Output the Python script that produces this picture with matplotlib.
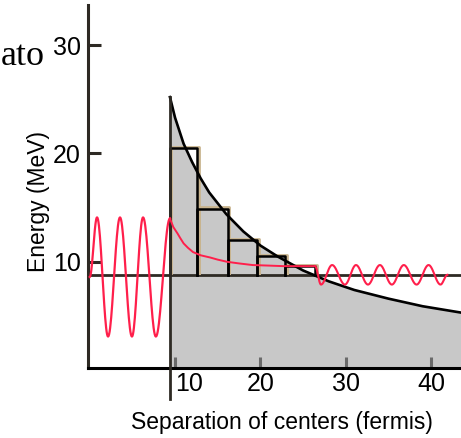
import numpy as np
import matplotlib
matplotlib.use("Agg")
import matplotlib.pyplot as plt
import matplotlib.transforms as mtrans

# (x in fermis, E in MeV)
wall_x = 9.4
level_E = 8.8

coul_x = [9.4, 10, 11, 12, 13, 14, 16, 18, 20, 22, 25, 28, 31, 35, 39, 43.6]
coul_E = [25.2, 23.3, 20.9, 19.2, 17.7, 16.4, 14.4, 12.8, 11.5, 10.5, 9.2, 8.2, 7.4, 6.6, 5.9, 5.3]

step_edges = [9.4, 12.6, 16.2, 19.6, 22.9, 26.4]
step_tops = [20.5, 14.9, 12.0, 10.5, 9.6]

# red wave: extrema inside the well
well_x = [0.0, 0.86, 2.15, 3.55, 4.95, 6.25, 7.75, 9.4]
well_E = [8.6, 14.1, 3.1, 14.1, 3.1, 14.1, 3.1, 14.0]
# decay through the barrier
tunnel_x = [9.4, 9.6, 9.8, 10.05, 10.3, 10.6, 11.0, 11.5, 12.1, 13.0, 14.1, 15.0, 16.1, 17.5, 19.1, 21.0, 22.7, 26.4]
tunnel_E = [14.0, 13.6, 13.2, 12.9, 12.6, 12.2, 11.7, 11.3, 10.9, 10.6, 10.4, 10.2, 10.0, 9.85, 9.7, 9.65, 9.6, 9.6]
# outgoing wave extrema
out_x = [26.4, 27.1, 28.4, 29.9, 31.2, 32.6, 34.0, 35.4, 36.8, 38.3, 39.7, 41.1, 41.9]
out_E = [9.6, 7.9, 9.7, 7.9, 9.7, 7.9, 9.7, 7.9, 9.7, 7.9, 9.7, 7.9, 8.8]

xticks = [10, 20, 30, 40]
yticks = [10, 20, 30]

gray = "#c8c8c8"
red = "#ff1f4b"
dark = "#2e2a24"
tan = "#c9b48e"


def smooth(xs, es, n=24):
    px, py = [], []
    for i in range(len(xs) - 1):
        t = np.linspace(0, 1, n)
        s = (1 - np.cos(np.pi * t)) / 2
        px.extend(xs[i] + (xs[i + 1] - xs[i]) * t)
        py.extend(es[i] + (es[i + 1] - es[i]) * s)
    return px, py


fig = plt.figure(figsize=(4.61, 4.38), dpi=100)
ax = fig.add_axes([88 / 461, 1 - 368 / 438, 1 - 88 / 461, (368 - 5) / 438])
ax.set_xlim(-0.2, 43.5)
ax.set_ylim(0.2, 33.7)

# barrier region
ax.fill_between(coul_x, coul_E, 0, color=gray, lw=0, zorder=1)
ax.axhline(level_E, color=dark, lw=2, zorder=3)

# steps with a tan shadow
shadow = mtrans.offset_copy(ax.transData, fig=fig, x=1.5, y=1.5, units="dots")
for i, top in enumerate(step_tops):
    x0, x1 = step_edges[i], step_edges[i + 1]
    bx = [x0, x0, x1, x1]
    by = [level_E, top, top, level_E]
    ax.plot(bx, by, color=tan, lw=2, transform=shadow, zorder=3)
    ax.plot(bx, by, color="black", lw=1.8, zorder=4)

ax.plot(coul_x, coul_E, color="black", lw=1.9, zorder=5)
ax.plot([wall_x, wall_x], [coul_E[0], -2.7], color=dark, lw=2, zorder=5, clip_on=False)

wx, wy = smooth(well_x, well_E)
ax.plot(wx, wy, color=red, lw=1.6, zorder=6)
ax.plot(tunnel_x, tunnel_E, color=red, lw=1.4, zorder=6)
ox, oy = smooth(out_x, out_E)
ax.plot(ox, oy, color=red, lw=1.5, zorder=6)

for side in ["top", "right"]:
    ax.spines[side].set_visible(False)
ax.spines["left"].set_color(dark)
ax.spines["left"].set_linewidth(2.2)
ax.spines["bottom"].set_color("black")
ax.spines["bottom"].set_linewidth(2.2)

ax.set_xticks(xticks)
ax.set_xticklabels([str(v) for v in xticks])
ax.set_yticks(yticks)
ax.set_yticklabels([str(v) for v in yticks])
ax.tick_params(axis="x", direction="in", length=8, width=2.2, color="#6a6a6a",
               labelsize=18, pad=3)
ax.tick_params(axis="y", direction="in", length=9, width=2.2, color=dark,
               labelsize=18, pad=5)
for lab in ax.get_xticklabels():
    lab.set_fontfamily("Liberation Sans")
for lab in ax.get_yticklabels():
    lab.set_fontfamily("Liberation Sans")
ax.get_xticklabels()[0].set_horizontalalignment("left")

fig.text(39 / 461, 1 - 201 / 438, "Energy (MeV)", rotation=90, ha="center", va="center",
         fontsize=16.5, family="Liberation Sans")
fig.text(282 / 461, 1 - 422 / 438, "Separation of centers (fermis)", ha="center",
         va="center", fontsize=16.5, family="Liberation Sans")
fig.text(1 / 461, 1 - 65 / 438, "ato", ha="left", va="baseline", fontsize=26,
         family="Liberation Serif")

fig.savefig("out.png", dpi=100)
